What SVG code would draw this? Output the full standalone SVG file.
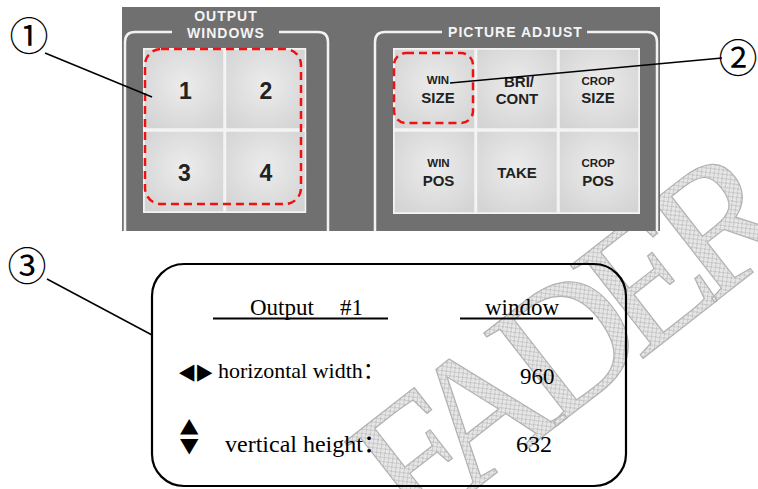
<svg xmlns="http://www.w3.org/2000/svg" width="758" height="489" viewBox="0 0 758 489">
<defs>
<style>
.frame{fill:none;stroke:#f2f2f2;stroke-width:2.5}
.hdr{font-family:"Liberation Sans",Arial,sans-serif;font-weight:bold;font-size:14px;fill:#f4f4f4;letter-spacing:1px;text-anchor:middle}
.btn{fill:url(#btnGrad);stroke:#f4f4f4;stroke-width:1.5}
.dig{font-family:"Liberation Sans",Arial,sans-serif;font-weight:bold;font-size:23px;fill:#222;text-anchor:middle}
.sm{font-family:"Liberation Sans",Arial,sans-serif;font-weight:bold;font-size:11.5px;fill:#222;text-anchor:middle}
.lg{font-family:"Liberation Sans",Arial,sans-serif;font-weight:bold;font-size:15px;fill:#222;text-anchor:middle}
.sel{fill:none;stroke:#ee1111;stroke-width:2.5;stroke-dasharray:8 5}
.lead{stroke:#000;stroke-width:1.5;fill:none}
.circ{font-family:"Noto Sans CJK JP","Noto Sans CJK SC",sans-serif;font-size:39px;fill:#000;text-anchor:middle}
.ser{font-family:"Liberation Serif","Times New Roman","Noto Sans CJK SC",serif;fill:#000}
.sym{font-family:"DejaVu Sans",sans-serif;fill:#000}
.wm{font-family:"Liberation Serif","Times New Roman",serif;font-size:180px;letter-spacing:-20px;fill:url(#hatch);stroke:#b2b2b2;stroke-width:1.2}
</style>
<radialGradient id="btnGrad" cx="50%" cy="45%" r="65%">
<stop offset="0" stop-color="#ececec"/>
<stop offset="1" stop-color="#d4d4d4"/>
</radialGradient>
<pattern id="hatch" patternUnits="userSpaceOnUse" width="6" height="6">
<rect width="6" height="6" fill="#e6e6e6"/>
<path d="M0,0 L6,6 M6,0 L0,6" stroke="#bababa" stroke-width="0.8"/>
</pattern>
<clipPath id="panelClip"><rect x="122" y="7" width="538" height="224"/></clipPath>
</defs>

<rect width="758" height="489" fill="#fff"/>

<g id="watermark">
<text class="wm" transform="translate(413,538) rotate(-38)">FADER</text>
</g>

<g id="panel">
<rect x="122" y="7" width="538" height="224" fill="#707070"/>
<g clip-path="url(#panelClip)">
<path class="frame" d="M172,32 H135 Q125,32 125,42 V236 M279,32 H318 Q328,32 328,42 V236"/>
<path class="frame" d="M442,32 H385 Q375,32 375,42 V236 M587,32 H647 Q657,32 657,42 V236"/>
</g>
</g>

<g id="output-windows">
<text class="hdr" x="226" y="21">OUTPUT</text>
<text class="hdr" x="226" y="37.5">WINDOWS</text>
<rect x="143" y="48" width="163" height="165" fill="#f2f2f2"/>
<g id="btn-1"><rect class="btn" x="144" y="49" width="80" height="80"/><text class="dig" x="185.5" y="98.5">1</text></g>
<g id="btn-2"><rect class="btn" x="225.5" y="49" width="80" height="80"/><text class="dig" x="266" y="98.5">2</text></g>
<g id="btn-3"><rect class="btn" x="144" y="131" width="80" height="81"/><text class="dig" x="184.5" y="180.5">3</text></g>
<g id="btn-4"><rect class="btn" x="225.5" y="131" width="80" height="81"/><text class="dig" x="266" y="180.5">4</text></g>
<rect class="sel" x="145" y="49" width="156" height="155" rx="16"/>
</g>

<g id="picture-adjust">
<text class="hdr" x="515.5" y="37">PICTURE ADJUST</text>
<rect x="393" y="48" width="247" height="166" fill="#f2f2f2"/>
<g id="btn-win-size"><rect class="btn" x="394" y="49" width="81" height="80"/><text class="sm" x="438" y="84">WIN</text><text class="lg" x="438" y="103">SIZE</text></g>
<g id="btn-bri-cont"><rect class="btn" x="476.5" y="49" width="81" height="80"/><text class="lg" x="519" y="87">BRI/</text><text class="lg" x="517" y="103.5">CONT</text></g>
<g id="btn-crop-size"><rect class="btn" x="559" y="49" width="80" height="80"/><text class="sm" x="598" y="84.5">CROP</text><text class="lg" x="598" y="103">SIZE</text></g>
<g id="btn-win-pos"><rect class="btn" x="394" y="131" width="81" height="82"/><text class="sm" x="438.5" y="167">WIN</text><text class="lg" x="438.5" y="186">POS</text></g>
<g id="btn-take"><rect class="btn" x="476.5" y="131" width="81" height="82"/><text class="lg" x="517" y="178">TAKE</text></g>
<g id="btn-crop-pos"><rect class="btn" x="559" y="131" width="80" height="82"/><text class="sm" x="598" y="167">CROP</text><text class="lg" x="598" y="186">POS</text></g>
<rect class="sel" x="394" y="53" width="79" height="70" rx="12"/>
</g>

<g id="display">
<rect x="152" y="264" width="474" height="222" rx="32" fill="none" stroke="#000" stroke-width="2.2"/>
<text class="ser" font-size="23" x="250" y="315">Output<tspan x="340">#1</tspan></text>
<line x1="213" y1="318.5" x2="388" y2="318.5" stroke="#000" stroke-width="2"/>
<text class="ser" font-size="23" x="485" y="315">window</text>
<line x1="460" y1="318.5" x2="593" y2="318.5" stroke="#000" stroke-width="2"/>
<text class="sym" font-size="20" transform="translate(0,379) scale(1,1.12)" x="179" y="0">◀<tspan x="197">▶</tspan></text>
<text class="ser" font-size="22" x="218" y="378">horizontal width：</text>
<text class="ser" font-size="23" x="520" y="384">960</text>
<text class="sym" font-size="24" transform="translate(0,432) scale(1,0.85)" x="180" y="0">▲<tspan x="180" dy="23.5">▼</tspan></text>
<text class="ser" font-size="24" x="225" y="452">vertical height：</text>
<text class="ser" font-size="24" x="516" y="452">632</text>
</g>

<g id="connectors">
<line class="lead" x1="45" y1="53" x2="152" y2="97"/>
<line class="lead" x1="450" y1="83" x2="722" y2="58"/>
<line class="lead" x1="47" y1="279" x2="152" y2="335"/>
</g>

<g id="callouts">
<g id="callout-1"><text class="circ" x="29" y="50">①</text></g>
<g id="callout-2"><text class="circ" x="738" y="72">②</text></g>
<g id="callout-3"><text class="circ" x="27" y="280">③</text></g>
</g>
</svg>
